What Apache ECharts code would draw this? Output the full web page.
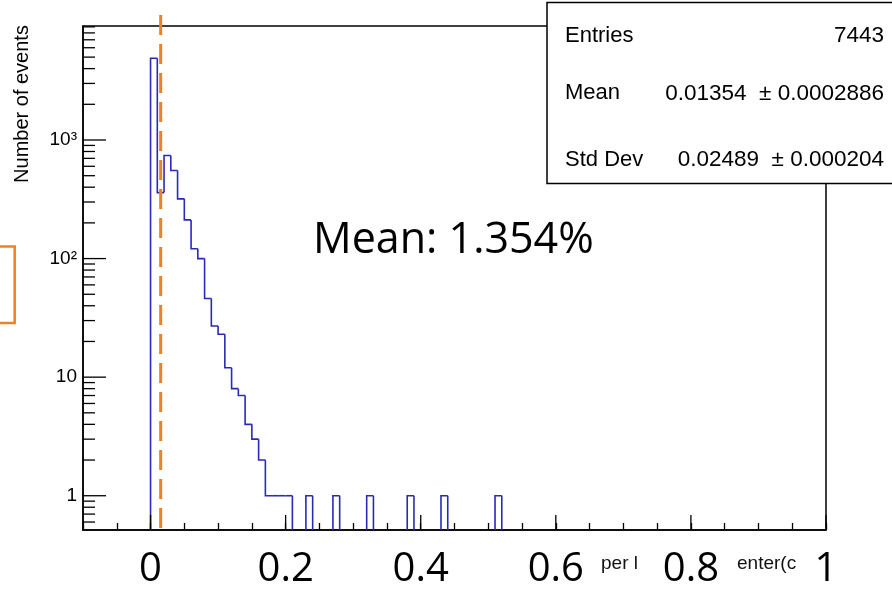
<!DOCTYPE html>
<html>
<head>
<meta charset="utf-8">
<script src="https://cdn.jsdelivr.net/npm/echarts@6/dist/echarts.min.js"></script>
<style>
    html, body { margin: 0; padding: 0; background: #fff; }
    #chart { width: 892px; height: 592px; }
</style>
</head>
<body>
<div id="chart"></div>
<script>
// histogram bins, 0.01 wide, first bin starts at 0
const binLow = 0;
const binWidth = 0.01;
const counts = [4896, 360, 740, 553, 319, 212, 121, 100, 46, 27, 23, 12, 8, 7, 4, 3, 2, 1, 1, 1, 1,
    0, 0, 1, 0, 0, 0, 1, 0, 0, 0, 0, 1, 0, 0, 0, 0, 0, 1, 0, 0, 0, 0, 1, 0, 0, 0, 0, 0, 0, 0, 1];

// axes
const xRange = [-0.1, 1.0];
const yRange = [0.514, 9150];
const xTickLabels = [0, 0.2, 0.4, 0.6, 0.8, 1];
const yTickValues = [1, 10, 100, 1000];
const yTickLabels = ['1', '10', '10²', '10³'];

// stats box
const statNames = ['Entries', 'Mean', 'Std Dev'];
const statValues = ['7443', '0.01354  ± 0.0002886', '0.02489  ± 0.000204'];

// annotation
const meanLineX = 0.015;
const meanText = 'Mean: 1.354%';

const histBlue = '#2a2ab5';
const orange = '#ee8124';
const rootFont = '"Liberation Sans", Arial, sans-serif';
const slideFont = '"Open Sans", sans-serif';

// ROOT style log minor ticks (2..9 per decade)
const yMinorTicks = [];
[0.1, 1, 10, 100, 1000].forEach(d => {
    for (let m = 2; m <= 9; m++) {
        const v = d * m;
        if (v > yRange[0] && v < yRange[1]) yMinorTicks.push(v);
    }
});

const histData = counts.concat([0]).map((c, i) => [binLow + i * binWidth, c, i > 0 ? counts[i - 1] : 0]);

const myEchart = echarts.init(document.getElementById('chart'), null, {renderer: 'canvas'});

myEchart.setOption({
    animation: false,
    textStyle: {fontFamily: rootFont},
    grid: {
        left: 83, right: 66, top: 26, bottom: 62,
        outerBoundsMode: 'none',
        show: true, borderColor: '#000', borderWidth: 1.5
    },
    xAxis: {
        type: 'value',
        min: xRange[0], max: xRange[1], interval: 0.05,
        axisLine: {onZero: false, lineStyle: {color: '#000', width: 1.5}},
        axisTick: {inside: true, length: 7, lineStyle: {color: '#000', width: 1.3}},
        splitLine: {show: false},
        axisLabel: {
            interval: 0,
            margin: 40,
            verticalAlign: 'middle',
            fontFamily: slideFont,
            fontSize: 40,
            color: '#000',
            formatter: v => {
                const k = Math.round(v * 100) / 100;
                const t = xTickLabels.find(t => Math.abs(t - k) < 1e-9);
                return t === undefined ? '' : String(t);
            }
        }
    },
    yAxis: {
        type: 'log', logBase: 10,
        min: yRange[0], max: yRange[1],
        axisLine: {show: true, onZero: false, lineStyle: {color: '#000', width: 1.5}},
        axisTick: {show: false},
        splitLine: {show: false},
        axisLabel: {
            margin: 6,
            fontSize: 19,
            color: '#000',
            showMinLabel: false,
            showMaxLabel: false,
            formatter: v => {
                const i = yTickValues.findIndex(t => Math.abs(v / t - 1) < 1e-6);
                return i < 0 ? '' : yTickLabels[i];
            }
        }
    },
    series: [
        {
            // histogram outline
            type: 'custom',
            clip: false,
            encode: {x: 0, y: 1},
            data: histData,
            renderItem: (params, api) => {
                const x0 = api.value(0);
                const v = api.value(1);
                const prev = api.value(2);
                if (v <= 0 && prev <= 0) return null;
                const yPix = c => api.coord([x0, c > 0 ? c : yRange[0]])[1];
                const left = api.coord([x0, yRange[0]])[0];
                const right = api.coord([x0 + binWidth, yRange[0]])[0];
                const pts = [[left, yPix(prev)], [left, yPix(v)]];
                if (v > 0) pts.push([right, yPix(v)]);
                return {
                    type: 'polyline',
                    shape: {points: pts},
                    style: {stroke: histBlue, lineWidth: 1.6, fill: null}
                };
            },
            z: 3
        },
        {
            // y ticks, drawn inside the frame like ROOT
            type: 'custom',
            clip: false,
            encode: {x: 0, y: 1},
            data: yTickValues.map(v => [xRange[0], v, 23]).concat(yMinorTicks.map(v => [xRange[0], v, 12])),
            renderItem: (params, api) => {
                const p = api.coord([api.value(0), api.value(1)]);
                return {
                    type: 'line',
                    shape: {x1: p[0], y1: p[1], x2: p[0] + api.value(2), y2: p[1]},
                    style: {stroke: '#000', lineWidth: 1.3}
                };
            },
            z: 4
        },
        {
            // x major ticks
            type: 'custom',
            clip: false,
            encode: {x: 0, y: 1},
            data: xTickLabels.map(v => [v, yRange[0]]),
            renderItem: (params, api) => {
                const p = api.coord([api.value(0), api.value(1)]);
                return {
                    type: 'line',
                    shape: {x1: p[0], y1: p[1], x2: p[0], y2: p[1] - 15},
                    style: {stroke: '#000', lineWidth: 1.3}
                };
            },
            z: 4
        },
        {
            // dashed mean line
            type: 'custom',
            clip: false,
            encode: {x: 0, y: 1},
            data: [[meanLineX, yRange[1]]],
            renderItem: (params, api) => {
                const top = api.coord([api.value(0), yRange[1]]);
                const bottom = api.coord([api.value(0), yRange[0]]);
                return {
                    type: 'line',
                    shape: {x1: top[0], y1: top[1] - 11, x2: bottom[0], y2: bottom[1] + 4},
                    style: {stroke: orange, lineWidth: 3, lineDash: [20, 9]}
                };
            },
            z: 5
        }
    ],
    graphic: [
        {
            type: 'text', x: 22, y: 104, rotation: Math.PI / 2,
            style: {text: 'Number of events', font: '20px ' + rootFont, fill: '#000', align: 'center', verticalAlign: 'middle'}
        },
        {
            type: 'rect', shape: {x: -10, y: 246.5, width: 24.7, height: 76.5},
            style: {fill: null, stroke: orange, lineWidth: 2.5}
        },
        {
            type: 'text', x: 313, y: 240.5,
            style: {text: meanText, font: '43px ' + slideFont, fill: '#000', verticalAlign: 'middle'}
        },
        {
            type: 'text', x: 601, y: 564,
            style: {text: 'per l', font: '19px ' + rootFont, fill: '#111', verticalAlign: 'middle'}
        },
        {
            type: 'text', x: 737, y: 564,
            style: {text: 'enter(c', font: '19px ' + rootFont, fill: '#111', verticalAlign: 'middle'}
        },
        {
            type: 'group', z: 100,
            children: [
                {
                    type: 'rect', shape: {x: 547, y: 2.5, width: 400, height: 181},
                    style: {fill: '#fff', stroke: '#000', lineWidth: 1.5}
                }
            ].concat(statNames.map((n, i) => ({
                type: 'text', x: 565, y: [35.8, 93.3, 160][i],
                style: {text: n, font: '22px ' + rootFont, fill: '#000', verticalAlign: 'middle'}
            }))).concat(statValues.map((v, i) => ({
                type: 'text', x: 884, y: [35.8, 93.3, 160][i],
                style: {text: v, font: '22.5px ' + rootFont, fill: '#000', align: 'right', verticalAlign: 'middle'}
            })))
        }
    ]
});
</script>
</body>
</html>
